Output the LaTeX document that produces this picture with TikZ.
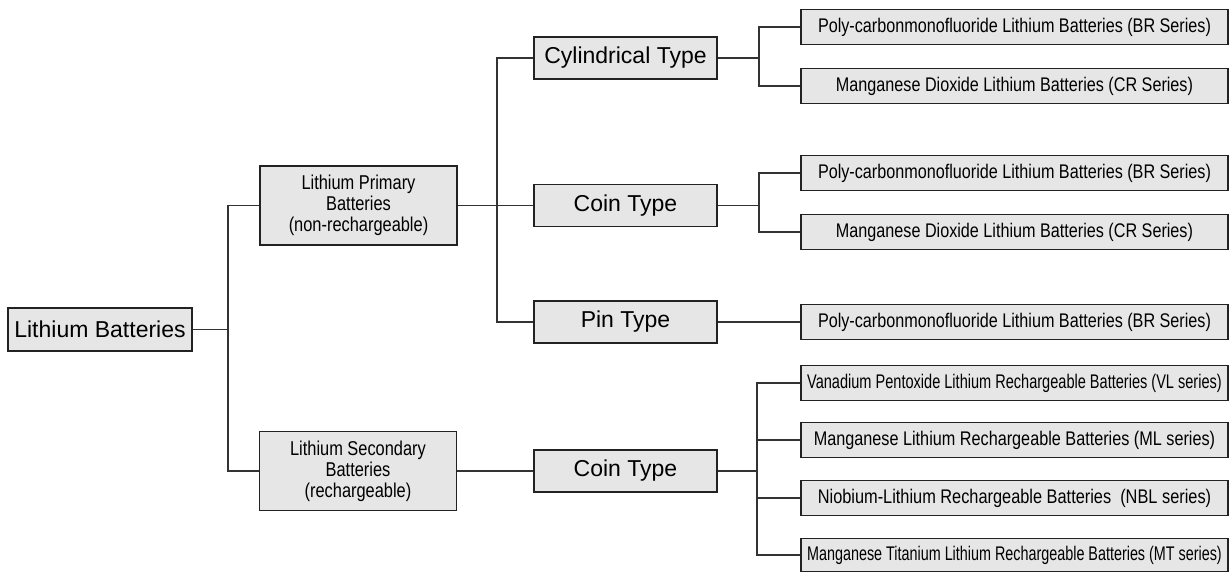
\documentclass[tikz,border=0pt]{standalone}
\usepackage{fontspec}
\usepackage{graphicx}
\setmainfont{Liberation Sans}
\newfontfamily\nar[FakeStretch=0.82]{Liberation Sans}
\newcommand\fitw[2]{\resizebox{#1}{\height}{#2}}
\definecolor{boxfill}{HTML}{E6E6E6}
\definecolor{boxline}{HTML}{222222}
\definecolor{wire}{HTML}{333333}
\tikzset{
  box/.style={draw=boxline, fill=boxfill, line width=1.1pt, inner sep=0pt, align=center, anchor=center},
  bigbox/.style={box, minimum width={183*0.75pt}, minimum height={42*0.75pt}, font=\fontsize{17.25}{20}\selectfont},
  midbox/.style={box, minimum width={197*0.75pt}, minimum height={79*0.75pt}, font=\nar\fontsize{15}{15.75}\selectfont},
  leafbox/.style={box, minimum width={427*0.75pt}, minimum height={35*0.75pt}, font=\nar\fontsize{14.8}{16}\selectfont},
  wirestyle/.style={draw=wire, line width=1pt}
}
\begin{document}
\begin{tikzpicture}[x=0.75pt, y=-0.75pt]
\useasboundingbox (0,0) rectangle (1232,572);
% level 0
\node[bigbox, minimum width={184*0.75pt}, minimum height={43*0.75pt}] (root) at (100,329.5) {Lithium Batteries};
% level 1
\node[midbox] (prim) at (358.5,205.5) {Lithium Primary\\Batteries\\(non-rechargeable)};
\node[midbox] (sec) at (358,471) {Lithium Secondary\\Batteries\\(rechargeable)};
% level 2
\node[bigbox] (cyl) at (625.5,58) {Cylindrical Type};
\node[bigbox] (coinA) at (625.5,205.5) {Coin Type};
\node[bigbox] (pin) at (625.5,322) {Pin Type};
\node[bigbox] (coinB) at (625.5,471) {Coin Type};
% leaves
\node[leafbox] (l1) at (1014.5,27) {Poly-carbonmonofluoride Lithium Batteries (BR Series)};
\node[leafbox] (l2) at (1014.5,86) {Manganese Dioxide Lithium Batteries (CR Series)};
\node[leafbox] (l3) at (1014.5,173) {Poly-carbonmonofluoride Lithium Batteries (BR Series)};
\node[leafbox] (l4) at (1014.5,232) {Manganese Dioxide Lithium Batteries (CR Series)};
\node[leafbox] (l5) at (1014.5,322) {Poly-carbonmonofluoride Lithium Batteries (BR Series)};
\node[leafbox] (l6) at (1014.5,383) {\fitw{311pt}{Vanadium Pentoxide Lithium Rechargeable Batteries (VL series)}};
\node[leafbox] (l7) at (1014.5,440) {\fitw{301pt}{Manganese Lithium Rechargeable Batteries (ML series)}};
\node[leafbox] (l8) at (1014.5,498) {\fitw{295pt}{Niobium-Lithium Rechargeable Batteries~ (NBL series)}};
\node[leafbox, minimum height={33*0.75pt}] (l9) at (1014.5,555) {\fitw{311pt}{Manganese Titanium Lithium Rechargeable Batteries (MT series)}};
% junctions
\coordinate (j1) at (228,329.5);
\coordinate (j2) at (497,205.5);
\coordinate (j3) at (759,58);
\coordinate (j4) at (759,205.5);
\coordinate (j5) at (757,471);
% connectors
\draw[wirestyle] (root.east) -- (j1);
\draw[wirestyle] (prim.west) -| (j1) |- (sec.west);
\draw[wirestyle] (prim.east) -- (coinA.west);
\draw[wirestyle] (cyl.west) -| (j2) |- (pin.west);
\draw[wirestyle] (sec.east) -- (coinB.west);
\draw[wirestyle] (cyl.east) -- (j3);
\draw[wirestyle] (l1.west) -| (j3) |- (l2.west);
\draw[wirestyle] (coinA.east) -- (j4);
\draw[wirestyle] (l3.west) -| (j4) |- (l4.west);
\draw[wirestyle] (pin.east) -- (l5.west);
\draw[wirestyle] (coinB.east) -- (j5);
\draw[wirestyle] (l6.west) -| (j5) |- (l9.west);
\draw[wirestyle] (j5 |- l7.west) -- (l7.west);
\draw[wirestyle] (j5 |- l8.west) -- (l8.west);
\end{tikzpicture}
\end{document}
